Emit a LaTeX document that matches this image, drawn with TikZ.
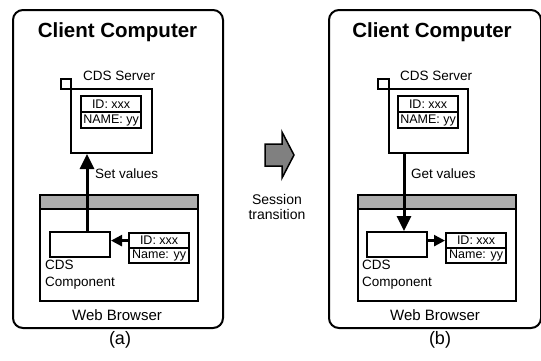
\documentclass[tikz,border=0pt]{standalone}
\usepackage{fontspec}
\setmainfont{Liberation Sans}
\usetikzlibrary{arrows.meta}
\tikzset{
  frame/.style={draw, line width=2pt, rounded corners=10pt, anchor=north west, inner sep=0pt},
  box/.style={draw, fill=white, line width=2pt, anchor=north west, inner sep=0pt},
  cell/.style={draw, fill=white, line width=2.2pt, anchor=north west, inner sep=0pt,
    minimum width=60pt, minimum height=16pt, font=\fontsize{12.5}{12.5}\selectfont},
  title/.style={font=\fontsize{20.5}{20}\selectfont\bfseries},
  lbl/.style={font=\fontsize{13.5}{17}\selectfont, inner sep=0pt, align=left},
  caption/.style={font=\fontsize{18}{18}\selectfont, inner sep=0pt},
  flow/.style={line width=3pt, -{Triangle[length=15pt,width=14pt]}},
  side/.style={line width=2.4pt, -{Triangle[length=11pt,width=11pt]}},
}
\begin{document}
\begin{tikzpicture}[x=1pt,y=-1pt]
\useasboundingbox (0,0) rectangle (541,360);

% ---------------- panel (a): set values ----------------
\node[frame, minimum width=210pt, minimum height=318pt] (ccA) at (12,9) {};
\node[title] (titleA) at (117.5,32) {Client Computer};
\node[box, minimum width=10pt, minimum height=10pt] (portA) at (60,78) {};
\node[box, minimum width=81pt, minimum height=64pt] (srvA) at (70,88) {};
\node[lbl, anchor=west] (srvlblA) at (83,76) {CDS Server};
\node[cell] (sidA) at (80,95) {ID: xxx};
\node[cell] (snameA) at (80,111) {NAME: yy};

\node[box, fill=none, minimum width=158pt, minimum height=106pt] (wbA) at (39,194) {};
\node[box, fill=black!32, minimum width=158pt, minimum height=14pt] (barA) at (39,194) {};
\node[box, minimum width=60pt, minimum height=25pt] (compA) at (49,231) {};
\node[cell, minimum height=15pt] (cidA) at (128,232) {ID: xxx};
\node[cell, minimum height=15pt] (cnameA) at (128,247) {Name: yy};
\node[lbl, anchor=north west] (complblA) at (45,259.5) {CDS\\Component};
\node[lbl, font=\fontsize{15}{15}\selectfont] (wblA) at (117,315) {Web Browser};

\coordinate (upA) at (87,0);
\draw[flow] (compA.north -| upA) -- (srvA.south -| upA);
\node[lbl, anchor=west] (setlbl) at (95,174) {Set values};
\draw[side] (cidA.west) -- (compA.east |- cidA.west);
\node[caption] (capA) at (120,340) {(a)};

% ---------------- session transition ----------------
\draw[line width=1.5pt, fill=black!50, line join=miter]
  (265,144) -- (282,144) -- (282,132) -- (294,155) -- (282,178) -- (282,166) -- (265,166) -- cycle;
\node[lbl, align=center, font=\fontsize{14}{14.5}\selectfont] (sess) at (277,207) {Session\\transition};

% ---------------- panel (b): get values ----------------
\node[frame, minimum width=212pt, minimum height=318pt] (ccB) at (328,9) {};
\node[title] (titleB) at (432,32) {Client Computer};
\node[box, minimum width=11pt, minimum height=10pt] (portB) at (377,78) {};
\node[box, minimum width=79pt, minimum height=64pt] (srvB) at (388,88) {};
\node[lbl, anchor=west] (srvlblB) at (400,76) {CDS Server};
\node[cell] (sidB) at (397,95) {ID: xxx};
\node[cell] (snameB) at (397,111) {NAME: yy};

\node[box, fill=none, minimum width=158pt, minimum height=106pt] (wbB) at (357,194) {};
\node[box, fill=black!32, minimum width=158pt, minimum height=14pt] (barB) at (357,194) {};
\node[box, minimum width=60pt, minimum height=25pt] (compB) at (366,231) {};
\node[cell, minimum height=15pt] (cidB) at (445,232) {ID: xxx};
\node[cell, minimum height=15pt] (cnameB) at (445,247) {Name: yy};
\node[lbl, anchor=north west] (complblB) at (362,259.5) {CDS\\Component};
\node[lbl, font=\fontsize{15}{15}\selectfont] (wblB) at (435,315) {Web Browser};

\coordinate (downB) at (404,0);
\draw[flow] (srvB.south -| downB) -- (compB.north -| downB);
\node[lbl, anchor=west] (getlbl) at (411,174) {Get values};
\draw[side] (compB.east |- cidB.west) -- (cidB.west);
\node[caption] (capB) at (440,340) {(b)};
\end{tikzpicture}
\end{document}
